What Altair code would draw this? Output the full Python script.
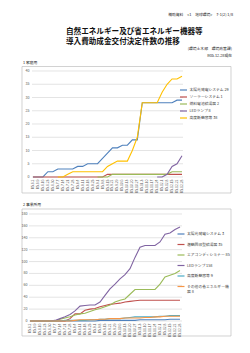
import altair as alt
import pandas as pd

FONT = "Noto Sans CJK JP"

labels = ["R5.6.2", "R5.6.9", "R5.6.16", "R5.6.23", "R5.6.30", "R5.7.7", "R5.7.14",
          "R5.7.21", "R5.7.28", "R5.8.4", "R5.8.11", "R5.8.18", "R5.8.25", "R5.9.1",
          "R5.9.8", "R5.9.15", "R5.9.22", "R5.9.29", "R5.10.6", "R5.10.13", "R5.10.20",
          "R5.10.27", "R5.11.3", "R5.11.10", "R5.11.17", "R5.11.24", "R5.12.1", "R5.12.8",
          "R5.12.15", "R5.12.22", "R5.12.28"]

N = None
# 1 家庭用
names1 = ["太陽光発電システム 29", "ソーラーシステム 1", "燃料電池給湯器 2", "LEDランプ 8", "高度断熱窓等 38"]
h_solar = [0, 0, 0, 2, 2, 3, 3, 3, 3, 4, 4, 5, 5, 5, 7, 9, 11, 11, 12, 12, 14, 14, 28, 28, 28, 28, 28, 28, 28, 29, 29]
h_solarheat = [0, 0, 0, 0, 0, 0, 0, 0, 0, 0, 0, 0, 0, 0, 0, 1, 1, 1, 1, 1, 1, 1, 1, 1, 1, 1, 1, 1, 1, 1, 1]
h_fuelcell = [N, N, N, N, N, N, N, N, N, N, N, N, N, 0, 0, 0, 1, 1, 1, 1, 1, 1, 1, 1, 1, 1, 1, 1, 2, 2, 2]
h_led = [N, N, N, N, N, N, N, N, N, N, N, N, N, N, N, N, N, N, N, N, N, N, N, N, N, 0, 0, 1, 4, 5, 8]
h_window = [N, N, N, N, N, 0, 0, 1, 2, 2, 2, 2, 2, 2, 2, 4, 5, 6, 6, 6, 10, 15, 28, 28, 28, 28, 32, 35, 37, 37, 38]
colors1 = ["#4F81BD", "#C0504D", "#9BBB59", "#8064A2", "#FFC000"]
yticks1 = [0, 5, 10, 15, 20, 25, 30, 35, 40]

# 2 事業所用
names2 = ["太陽光発電システム 3", "潜熱回収型給湯器 35", "エアコンディショナー 85", "LEDランプ 158",
          "高度断熱窓等 9", "その他の省エネルギー機器 8"]
b_solar = [0, 0, 0, 0, 0, 0, 0, 0, 0, 0, 0, 0, 0, 0, 1, 1, 1, 1, 1, 1, 1, 1, 2, 2, 2, 2, 2, 2, 3, 3, 3]
b_latent = [0, 0, 0, 0, 0, 0, 0, 0, 4, 12, 12, 18, 20, 21, 24, 26, 28, 29, 30, 32, 33, 34, 35, 35, 35, 35, 35, 35, 35, 35, 35]
b_aircon = [0, 0, 0, 0, 0, 0, 3, 5, 7, 10, 12, 13, 16, 19, 21, 24, 27, 32, 35, 37, 45, 53, 53, 53, 53, 53, 62, 74, 77, 80, 85]
b_led = [0, 0, 0, 0, 0, 1, 4, 7, 11, 17, 25, 26, 27, 27, 32, 43, 54, 62, 71, 78, 88, 107, 124, 127, 127, 127, 133, 146, 148, 154, 158]
b_window = [0, 0, 0, 0, 0, 0, 0, 1, 1, 1, 1, 1, 2, 2, 3, 3, 4, 4, 4, 5, 6, 7, 7, 7, 7, 7, 8, 8, 9, 9, 9]
b_other = [0, 0, 0, 0, 0, 0, 0, 0, 0, 1, 2, 2, 2, 2, 3, 3, 4, 4, 4, 5, 5, 5, 5, 6, 6, 7, 7, 8, 8, 8, 8]
colors2 = ["#4F81BD", "#C0504D", "#9BBB59", "#8064A2", "#4BACC6", "#F79646"]
yticks2 = [0, 20, 40, 60, 80, 100, 120, 140, 160, 180]

header_top = "補助資料　<1　地球環境>　7-1(2) 1/8"
title_lines = ["自然エネルギー及び省エネルギー機器等", "導入費助成金交付決定件数の推移"]
dept = "(環境土木部　環境政策課)"
asof = "R05.12.28現在"
sec1 = "1  家庭用"
sec2 = "2  事業所用"

AX_COLOR = "#595959"
GRID = "#D9D9D9"


def to_long(names, series, d, s, v):
    rows = []
    for nm, vals in zip(names, series):
        for lab, val in zip(labels, vals):
            if val is not None:
                rows.append({d: lab, s: nm, v: val})
    return pd.DataFrame(rows)


def panel(tag, names, series, colors, yticks, xrange, yrange, grid_x, ylab_x, xlab_y,
          leg_x, leg_y, row_pad, label_expr=None):
    d, s, v = "d" + tag, "s" + tag, "v" + tag
    df = to_long(names, series, d, s, v)
    xs = alt.Scale(type="point", domain=labels, range=xrange, padding=0)
    ys = alt.Scale(domain=[yticks[0], yticks[-1]], range=yrange, nice=False, zero=True)
    tick_df = pd.DataFrame({v: yticks})
    lab_df = pd.DataFrame({d: labels})

    grid = alt.Chart(tick_df).mark_rule(color=GRID, strokeWidth=0.7).encode(
        y=alt.Y(f"{v}:Q", scale=ys, axis=None),
        x=alt.value(grid_x[0]), x2=alt.value(grid_x[1]))
    ylab = alt.Chart(tick_df).mark_text(
        font=FONT, fontSize=3.6, color=AX_COLOR, align="right", baseline="middle"
    ).encode(y=alt.Y(f"{v}:Q", scale=ys, axis=None), x=alt.value(ylab_x), text=f"{v}:Q")
    xlab = alt.Chart(lab_df).mark_text(
        font=FONT, fontSize=3.4, color=AX_COLOR, align="right", baseline="middle", angle=270
    ).encode(x=alt.X(f"{d}:N", scale=xs, axis=None), y=alt.value(xlab_y), text=f"{d}:N")

    leg = dict(orient="none", legendX=leg_x, legendY=leg_y, title=None, padding=0,
               symbolType="stroke", symbolSize=49, symbolStrokeWidth=1.2,
               labelFont=FONT, labelFontSize=3.8, labelColor="#404040",
               labelLimit=200, rowPadding=row_pad, labelOffset=1.5)
    if label_expr:
        leg["labelExpr"] = label_expr
    lines = alt.Chart(df).mark_line(strokeWidth=1.1).encode(
        x=alt.X(f"{d}:N", scale=xs, axis=None),
        y=alt.Y(f"{v}:Q", scale=ys, axis=None),
        color=alt.Color(f"{s}:N", sort=names, scale=alt.Scale(domain=names, range=colors),
                        legend=alt.Legend(**leg)),
    )
    return alt.layer(grid, ylab, xlab, lines)


def frame(x1, x2, y1, y2):
    return alt.Chart(pd.DataFrame({"f": [0]})).mark_rect(
        fillOpacity=0, stroke="#BFBFBF", strokeWidth=0.7
    ).encode(x=alt.value(x1), x2=alt.value(x2), y=alt.value(y1), y2=alt.value(y2))


def text(txt, x, y, size, align="left", weight="normal", color="#222222"):
    return alt.Chart(pd.DataFrame({"t": [txt]})).mark_text(
        font=FONT, fontSize=size, align=align, baseline="middle",
        fontWeight=weight, color=color
    ).encode(text="t:N", x=alt.value(x), y=alt.value(y))


p1 = panel("1", names1, [h_solar, h_solarheat, h_fuelcell, h_led, h_window], colors1, yticks1,
           [33, 182], [177, 71], (32, 183), 29.5, 179.5, 179, 85.5, 0)
expr2 = "datum.label == 'その他の省エネルギー機器 8' ? ['その他の省エネルギー機', '器 8'] : datum.label"
p2 = panel("2", names2, [b_solar, b_latent, b_aircon, b_led, b_window, b_other], colors2, yticks2,
           [30, 180], [321, 214], (29, 182), 27.5, 323.5, 176.5, 229.5, 3.5, expr2)

chart = alt.layer(
    frame(22, 231, 66.5, 193),
    frame(22, 231, 209, 336),
    text(header_top, 233, 14.5, 3.8, align="right"),
    text(title_lines[0], 66, 32, 7.6, weight="bold", color="#111111"),
    text(title_lines[1], 66, 41.5, 7.6, weight="bold", color="#111111"),
    text(dept, 232, 48.5, 3.8, align="right"),
    text(asof, 232, 55.5, 3.8, align="right"),
    text(sec1, 23, 62.5, 3.8),
    text(sec2, 23, 204.5, 3.8),
    p1,
    p2,
).resolve_scale(x="independent", y="independent", color="independent").resolve_legend(
    color="independent"
).properties(
    width=250, height=353, padding=0, autosize=alt.AutoSizeParams(type="none")
).configure(background="white", view=alt.ViewConfig(stroke=None))

chart.save("out.html", embed_options={"renderer": "svg", "actions": False})
